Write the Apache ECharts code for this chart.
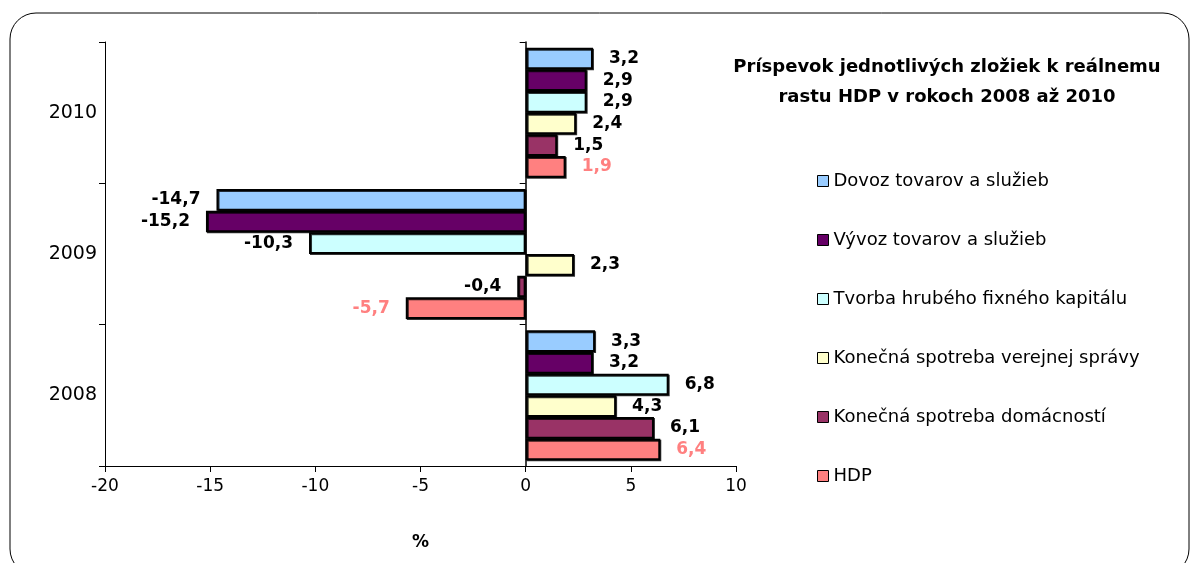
<!DOCTYPE html>
<html>
<head>
<meta charset="utf-8">
<script src="https://cdn.jsdelivr.net/npm/echarts@6/dist/echarts.min.js"></script>
<style>
  html, body { margin: 0; padding: 0; background: #fff; }
  #hdp { width: 1194px; height: 563px; }
</style>
</head>
<body>
<div id="hdp"></div>
<script>
// roky (odspodu nahor)
var years = ['2008', '2009', '2010'];

// príspevky zložiek k rastu HDP, v %
var dovoz = [3.3, -14.7, 3.2];
var vyvoz = [3.2, -15.2, 2.9];
var tvorba = [6.8, -10.3, 2.9];
var verejna = [4.3, 2.3, 2.4];
var domacnosti = [6.1, -0.4, 1.5];
var hdp = [6.4, -5.7, 1.9];

var xTicks = [-20, -15, -10, -5, 0, 5, 10];

var names = [
  'Dovoz tovarov a služieb',
  'Vývoz tovarov a služieb',
  'Tvorba hrubého fixného kapitálu',
  'Konečná spotreba verejnej správy',
  'Konečná spotreba domácností',
  'HDP'
];
var colors = ['#99CCFF', '#660066', '#CCFFFF', '#FFFFCC', '#993366', '#FF8080'];
var values = [dovoz, vyvoz, tvorba, verejna, domacnosti, hdp];

var font = 'DejaVu Sans, Verdana, sans-serif';

function makeSeries(i) {
  var labelColor = i === 5 ? '#FF8080' : '#000';
  return {
    name: names[i],
    type: 'bar',
    barGap: '0%',
    barCategoryGap: '8%',
    itemStyle: {
      color: colors[i],
      borderColor: '#000',
      borderWidth: 2,
      shadowColor: 'rgba(0,0,0,0.8)',
      shadowOffsetX: 1,
      shadowOffsetY: 1
    },
    label: {
      show: true,
      distance: 16,
      color: labelColor,
      fontFamily: font,
      fontWeight: 'bold',
      fontSize: 17,
      formatter: function (p) { return String(p.value).replace('.', ','); }
    },
    data: values[i].map(function (v) {
      return { value: v, label: { position: v < 0 ? 'left' : 'right' } };
    })
  };
}

var series = [];
for (var i = 0; i < names.length; i++) {
  series.push(makeSeries(i));
}

var option = {
  backgroundColor: '#fff',
  animation: false,
  title: {
    text: 'Príspevok jednotlivých zložiek k reálnemu\nrastu HDP v rokoch 2008 až 2010',
    left: 942,
    top: 47,
    textAlign: 'center',
    textStyle: {
      fontFamily: font,
      fontWeight: 'bold',
      fontSize: 18,
      lineHeight: 30,
      color: '#000'
    }
  },
  legend: {
    data: names,
    orient: 'vertical',
    left: 812,
    top: 167,
    itemWidth: 11,
    itemHeight: 11,
    itemGap: 41,
    icon: 'rect',
    itemStyle: { borderColor: '#000', borderWidth: 1 },
    textStyle: { fontFamily: font, fontSize: 18, color: '#000' }
  },
  graphic: [{
    type: 'rect',
    shape: { x: 10, y: 13, width: 1179, height: 562, r: 26 },
    style: { fill: 'none', stroke: '#000', lineWidth: 1 },
    silent: true
  }],
  grid: { left: 105, right: 458, top: 42, bottom: 97 },
  xAxis: {
    type: 'value',
    min: xTicks[0],
    max: xTicks[xTicks.length - 1],
    interval: 5,
    name: '%',
    nameLocation: 'middle',
    nameGap: 68,
    nameTextStyle: { fontFamily: font, fontWeight: 'bold', fontSize: 17, color: '#000' },
    axisLine: { show: true, onZero: false, lineStyle: { color: '#000', width: 1 } },
    axisTick: { show: true, length: 6, lineStyle: { color: '#000' } },
    axisLabel: { fontFamily: font, fontSize: 17, color: '#000', margin: 12 },
    splitLine: { show: false }
  },
  yAxis: [{
    type: 'category',
    data: years,
    axisLine: { show: true, onZero: false, lineStyle: { color: '#000' } },
    axisTick: { show: true, length: 6, lineStyle: { color: '#000' } },
    axisLabel: { fontFamily: font, fontSize: 19, color: '#000', margin: 8 },
    splitLine: { show: false }
  }, {
    type: 'category',
    data: years,
    position: 'left',
    axisLine: { show: true, onZero: true, lineStyle: { color: '#000', width: 1.5 } },
    axisTick: { show: true, length: 6, lineStyle: { color: '#000' } },
    axisLabel: { show: false },
    splitLine: { show: false }
  }],
  series: series
};

echarts.init(document.getElementById('hdp')).setOption(option);
</script>
</body>
</html>
